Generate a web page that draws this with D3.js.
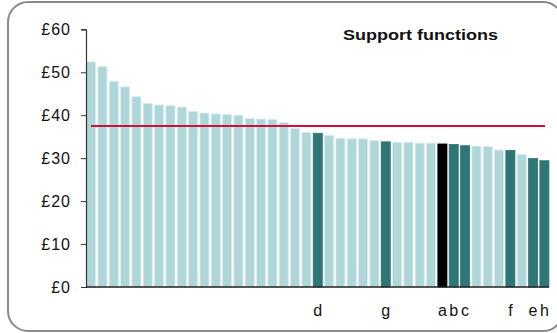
<!DOCTYPE html>
<html>
<head>
<meta charset="utf-8">
<script src="https://cdn.jsdelivr.net/npm/d3@7"></script>
<style>
body { margin: 0; background: #fff; }
svg { display: block; font-family: "Liberation Sans", Arial, sans-serif; }
</style>
</head>
<body>
<svg width="557" height="333"></svg>
<script>
// cost per head, support functions, sorted high to low
var values = [52.4, 51.3, 47.9, 46.6, 44.3, 42.7, 42.4, 42.2, 41.9, 40.9,
  40.5, 40.3, 40.2, 40.0, 39.2, 39.1, 39.0, 38.3, 36.9, 36.0,
  35.8, 35.3, 34.6, 34.5, 34.5, 34.1, 33.8, 33.7, 33.7, 33.5,
  33.5, 33.3, 33.2, 32.9, 32.8, 32.7, 31.9, 31.8, 30.9, 29.9, 29.4];
var labels = ["", "", "", "", "", "", "", "", "", "",
  "", "", "", "", "", "", "", "", "", "",
  "d", "", "", "", "", "", "g", "", "", "",
  "", "a", "b", "c", "", "", "", "f", "", "e", "h"];
// 0 = others, 1 = comparator, 2 = this body
var groups = [0, 0, 0, 0, 0, 0, 0, 0, 0, 0,
  0, 0, 0, 0, 0, 0, 0, 0, 0, 0,
  1, 0, 0, 0, 0, 0, 1, 0, 0, 0,
  0, 2, 1, 1, 0, 0, 0, 1, 0, 1, 1];
var average = 37.5;
var yTicks = [0, 10, 20, 30, 40, 50, 60];
var title = "Support functions";

var svg = d3.select("svg");
var colors = ["#afd6d9", "#2f7777", "#000000"];
var strokes = ["#d9ecee", "#2f7777", "#000000"];

var x = d3.scaleBand()
  .domain(d3.range(values.length))
  .range([86, 549.5])
  .paddingInner(0.2)
  .paddingOuter(0.05);

var y = d3.scaleLinear()
  .domain([0, 60])
  .range([287, 29.3]);

// frame
svg.append("rect")
  .attr("x", 8).attr("y", 2)
  .attr("width", 555).attr("height", 329)
  .attr("rx", 20).attr("ry", 20)
  .attr("fill", "none")
  .attr("stroke", "#8a8a8a")
  .attr("stroke-width", 2);

// bars
svg.selectAll(".bar")
  .data(values)
  .enter().append("rect")
  .attr("class", "bar")
  .attr("x", function(d, i) { return x(i); })
  .attr("y", function(d) { return y(d); })
  .attr("width", x.bandwidth())
  .attr("height", function(d) { return y(0) - y(d); })
  .attr("fill", function(d, i) { return colors[groups[i]]; })
  .attr("stroke", function(d, i) { return strokes[groups[i]]; })
  .attr("stroke-width", 0.8);

// y axis
var yAxis = d3.axisLeft(y)
  .tickValues(yTicks)
  .tickSize(5)
  .tickPadding(10)
  .tickFormat(function(d) { return "£" + d; });

var gy = svg.append("g")
  .attr("transform", "translate(86,0)")
  .call(yAxis);
gy.select(".domain").attr("stroke", "#333").attr("stroke-width", 1.2);
gy.selectAll(".tick line").attr("stroke", "#333");
gy.selectAll(".tick text")
  .attr("fill", "#111")
  .style("font-size", "16px")
  .style("letter-spacing", "1px")
  .style("font-family", "Liberation Sans, Arial, sans-serif");

// x axis baseline
var xAxis = d3.axisBottom(x)
  .tickSize(0)
  .tickPadding(18)
  .tickFormat(function(i) { return labels[i]; });

var gx = svg.append("g")
  .attr("transform", "translate(0," + y(0) + ")")
  .call(xAxis);
gx.select(".domain").attr("stroke", "#222").attr("stroke-width", 1.5)
  .attr("d", "M86,0H549");
gx.selectAll(".tick text")
  .attr("fill", "#111")
  .style("font-size", "16px")
  .style("font-family", "Liberation Sans, Arial, sans-serif");

// average line
svg.append("line")
  .attr("x1", 91).attr("x2", 545)
  .attr("y1", y(average)).attr("y2", y(average))
  .attr("stroke", "#d0103a")
  .attr("stroke-width", 2);

// title
svg.append("text")
  .attr("x", 343).attr("y", 40)
  .attr("font-size", "15px")
  .attr("font-weight", "bold")
  .attr("textLength", 155)
  .attr("lengthAdjust", "spacingAndGlyphs")
  .attr("fill", "#111")
  .text(title);
</script>
</body>
</html>
